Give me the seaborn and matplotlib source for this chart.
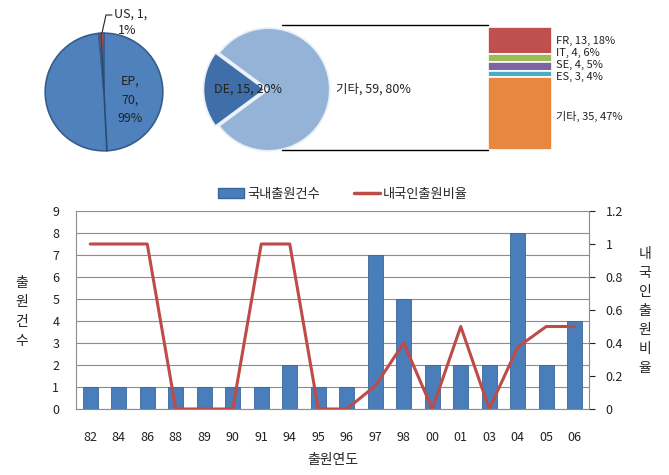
import matplotlib
matplotlib.use("Agg")
import matplotlib.pyplot as plt
import seaborn as sns
import numpy as np
import pandas as pd
from matplotlib.lines import Line2D
from matplotlib.patches import Patch

sns.set_style("white")
plt.rcParams['font.family'] = ['Noto Sans CJK KR', 'DejaVu Sans']

# ---- data ----
years = ["82", "84", "86", "88", "89", "90", "91", "94", "95", "96",
         "97", "98", "00", "01", "03", "04", "05", "06"]
counts = [1, 1, 1, 1, 1, 1, 1, 2, 1, 1, 7, 5, 2, 2, 2, 8, 2, 4]
ratio = [1, 1, 1, 0, 0, 0, 1, 1, 0, 0, 0.14, 0.4, 0, 0.5, 0, 0.375, 0.5, 0.5]

pie1_labels = ["EP", "US"]
pie1_values = [70, 1]
pie1_pct = ["99%", "1%"]

pie2_labels = ["DE", "기타"]
pie2_values = [15, 59]
pie2_pct = ["20%", "80%"]

stack_labels = ["FR", "IT", "SE", "ES", "기타"]
stack_values = [13, 4, 4, 3, 35]
stack_pct = ["18%", "6%", "5%", "4%", "47%"]

bar_color = "#4A7EBB"
line_color = "#BE4B48"

fig = plt.figure(figsize=(6.69, 4.75), dpi=100)
W, H = 669, 475

def ax_px(x0, y0, x1, y1):
    return fig.add_axes([x0 / W, 1 - y1 / H, (x1 - x0) / W, (y1 - y0) / H])

# ---- main combo chart ----
ax = ax_px(76, 211, 589, 409)
df = pd.DataFrame({"year": years, "count": counts, "ratio": ratio})
sns.barplot(data=df, x="year", y="count", ax=ax, color=bar_color,
            width=0.52, saturation=1, edgecolor="#3A659A", linewidth=0.6)
ax.set_ylim(0, 9)
ax.set_yticks(range(0, 10))
ax.set_xlim(-0.5, len(years) - 0.5)
ax.yaxis.grid(True, color="#8C8C8C", linewidth=0.8)
ax.set_axisbelow(True)
for s in ["top", "right"]:
    ax.spines[s].set_visible(False)
ax.spines["left"].set_color("#8C8C8C")
ax.spines["bottom"].set_color("#8C8C8C")
ax.tick_params(axis="y", labelsize=9, colors="#222222", length=0, pad=12)
ax.set_xticks(np.arange(len(years)))
ax.tick_params(axis="x", labelsize=9, colors="#222222", length=0, pad=16)
ax.set_xlabel("출원연도", fontsize=10, labelpad=6)
ax.set_ylabel("")
# minor ticks between categories
ax.set_xticks(np.arange(-0.5, len(years)), minor=True)
ax.tick_params(axis="x", which="minor", length=4, color="#8C8C8C")

ax2 = ax.twinx()
sns.lineplot(x=np.arange(len(years)), y=ratio, ax=ax2, color=line_color,
             linewidth=2.2)
ax2.set_ylim(0, 1.2)
ax2.set_yticks([0, 0.2, 0.4, 0.6, 0.8, 1, 1.2])
ax2.set_yticklabels(["0", "0.2", "0.4", "0.6", "0.8", "1", "1.2"])
for s in ["top", "left", "bottom"]:
    ax2.spines[s].set_visible(False)
ax2.spines["right"].set_color("#8C8C8C")
ax2.tick_params(axis="y", labelsize=9, colors="#222222", length=4, pad=8,
                direction="out")
ax2.set_xlim(-0.5, len(years) - 0.5)

# vertical axis titles
fig.text(22 / W, 1 - 312 / H, "출\n원\n건\n수", fontsize=10, ha="center",
         va="center", linespacing=1.5)
fig.text(645 / W, 1 - 311 / H, "내\n국\n인\n출\n원\n비\n율", fontsize=10,
         ha="center", va="center", linespacing=1.45)

# legend
handles = [Patch(facecolor=bar_color, edgecolor="#3A659A"),
           Line2D([0], [0], color=line_color, lw=2.5)]
fig.legend(handles, ["국내출원건수", "내국인출원비율"], loc="center",
           bbox_to_anchor=(343 / W, 1 - 194 / H), ncol=2, frameon=False,
           fontsize=9.5, handlelength=2.0, columnspacing=2.6,
           handletextpad=0.2)

# ---- pie 1 ----
axp1 = ax_px(44, 32, 164, 152)
axp1.pie(pie1_values, colors=["#4F81BD", "#C0504D"], startangle=90,
         counterclock=False, radius=1.0,
         wedgeprops=dict(edgecolor="#385D8A", linewidth=1.2))
axp1.plot([-0.05, 0.05], [1.0, -1.0], color="#2B4A70", lw=1.2)
axp1.set_aspect("equal")
axp1.set_xlim(-1.02, 1.02)
axp1.set_ylim(-1.02, 1.02)
axp1.axis("off")
fig.text(130 / W, 1 - 100 / H,
         f"{pie1_labels[0]},\n{pie1_values[0]},\n{pie1_pct[0]}",
         fontsize=9, ha="center", va="center", color="#222222",
         linespacing=1.55)
fig.text(114 / W, 1 - 14 / H, f"{pie1_labels[1]}, {pie1_values[1]},",
         fontsize=9, ha="left", va="center", color="#222222")
fig.text(127 / W, 1 - 31 / H, pie1_pct[1], fontsize=9, ha="center",
         va="center", color="#222222")
fig.add_artist(Line2D([102 / W, 106 / W, 112 / W],
                      [1 - 33 / H, 1 - 15 / H, 1 - 15 / H],
                      color="#222222", lw=0.8))

# ---- pie 2 ----
axp2 = ax_px(202, 27, 330, 152)
frac_de = pie2_values[0] / sum(pie2_values)
start = 180 - frac_de * 360 / 2
axp2.pie(pie2_values, colors=["#3F6EA8", "#95B3D7"], startangle=start,
         explode=[0.06, 0], radius=1.0,
         wedgeprops=dict(edgecolor="#E6EEF7", linewidth=1.2))
axp2.set_aspect("equal")
axp2.set_xlim(-1.08, 1.0)
axp2.set_ylim(-1.02, 1.02)
axp2.axis("off")
fig.text(248 / W, 1 - 89 / H,
         f"{pie2_labels[0]}, {pie2_values[0]}, {pie2_pct[0]}",
         fontsize=9, ha="center", va="center", color="#222222")
fig.text(336 / W, 1 - 89 / H,
         f"{pie2_labels[1]}, {pie2_values[1]}, {pie2_pct[1]}",
         fontsize=9, ha="left", va="center", color="#222222")

# connector lines
fig.add_artist(Line2D([282 / W, 488 / W], [1 - 25 / H, 1 - 25 / H],
                      color="black", lw=1))
fig.add_artist(Line2D([282 / W, 488 / W], [1 - 150 / H, 1 - 150 / H],
                      color="black", lw=1))

# ---- stacked bar ----
axs = ax_px(488, 27, 552, 150)
stack_colors = ["#C0504D", "#9BBB59", "#8064A2", "#4BACC6", "#E8873F"]
bottom = sum(stack_values)
for v, c in zip(stack_values, stack_colors):
    bottom -= v
    axs.bar(0, v, bottom=bottom, color=c, width=1.0, edgecolor="white",
            linewidth=1.2)
axs.set_xlim(-0.5, 0.5)
axs.set_ylim(0, sum(stack_values))
axs.axis("off")
label_px = [41, 53, 65, 77, 116]
for lab, v, p, yp in zip(stack_labels, stack_values, stack_pct, label_px):
    fig.text(556 / W, 1 - yp / H, f"{lab}, {v}, {p}", fontsize=8,
             ha="left", va="center", color="#222222")

fig.savefig("out.png", dpi=100)
